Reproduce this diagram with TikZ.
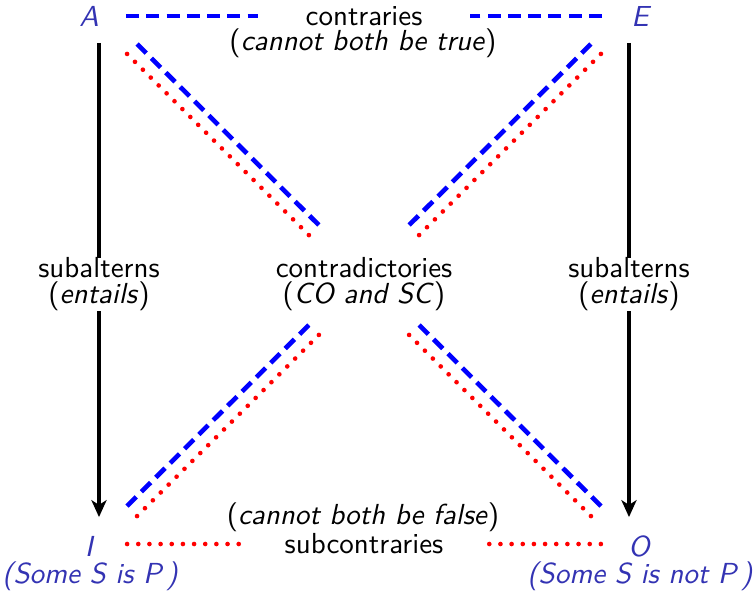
\documentclass[tikz,border=0pt]{standalone}
\usepackage{tikz}
\usetikzlibrary{arrows.meta,positioning}
\definecolor{letterblue}{RGB}{51,51,179}
\definecolor{contraryblue}{RGB}{0,0,255}
\definecolor{subred}{RGB}{255,0,0}

\begin{document}
\begin{tikzpicture}[x=0.345pt,y=-0.345pt,
  every node/.style={font=\sffamily,align=center},
  corner/.style={text=letterblue,font=\sffamily\itshape},
  contrary/.style={draw=contraryblue,line width=1.6pt,dash pattern=on 4.5pt off 2.5pt},
  subcontrary/.style={draw=subred,line width=1.6pt,line cap=round,dash pattern=on 0pt off 3.85pt},
  subaltern/.style={line width=1.6pt,-{Stealth[length=5.8pt,width=5.2pt,inset=1.6pt]}}]
\useasboundingbox (0,0) rectangle (753,594);
% corners of the square
\coordinate (a) at (99,16);
\coordinate (e) at (629,16);
\coordinate (i) at (99,544);
\coordinate (o) at (629,544);
\coordinate (mid) at (364,280);
\node[corner] (A) at (89,16) {A};
\node[corner] (E) at (640,16) {E};
\node[corner] (I) at (89,546) {I};
\node[corner] (O) at (639,546) {O};
\node[corner] (Itxt) at (90,576) {(Some S is P\,)};
\node[corner] (Otxt) at (640,576) {(Some S is not P\,)};
% contraries
\node[minimum width=73pt] (ctr) at (364,16) {contraries};
\node (ctrnote) at (363,43) {(\textit{cannot both be true})};
\draw[contrary,shorten <=9.3pt] (a) -- (ctr);
\draw[contrary,shorten <=9.3pt] (e) -- (ctr);
% subcontraries
\node[minimum width=85.2pt] (sctr) at (364,544) {subcontraries};
\node (sctrnote) at (363,517) {(\textit{cannot both be false})};
\draw[subcontrary,shorten <=9.7pt] (i) -- (sctr);
\draw[subcontrary,shorten <=9.7pt] (o) -- (sctr);
% subalterns
\draw[subaltern,shorten <=9.3pt,shorten >=9.3pt] (a) -- node[fill=white,inner sep=0pt,yshift=-1.5pt] {subalterns\\[-3pt](\textit{entails})} (i);
\draw[subaltern,shorten <=9.3pt,shorten >=9.3pt] (e) -- node[fill=white,inner sep=0pt,yshift=-1.5pt] {subalterns\\[-3pt](\textit{entails})} (o);
% contradictories
\node (cd) at (364,284) {contradictories\\[-3pt](\textit{CO and SC})};
\foreach \c/\s in {a/1.725pt,e/-1.725pt,i/-1.725pt,o/1.725pt}{
  \draw[contrary,transform canvas={xshift=\s,yshift=1.725pt},shorten <=16.1pt,shorten >=23.7pt] (\c) -- (mid);
  \draw[subcontrary,transform canvas={xshift=-\s,yshift=-1.725pt},shorten <=16.1pt,shorten >=23.7pt] (\c) -- (mid);
}
\end{tikzpicture}
\end{document}
